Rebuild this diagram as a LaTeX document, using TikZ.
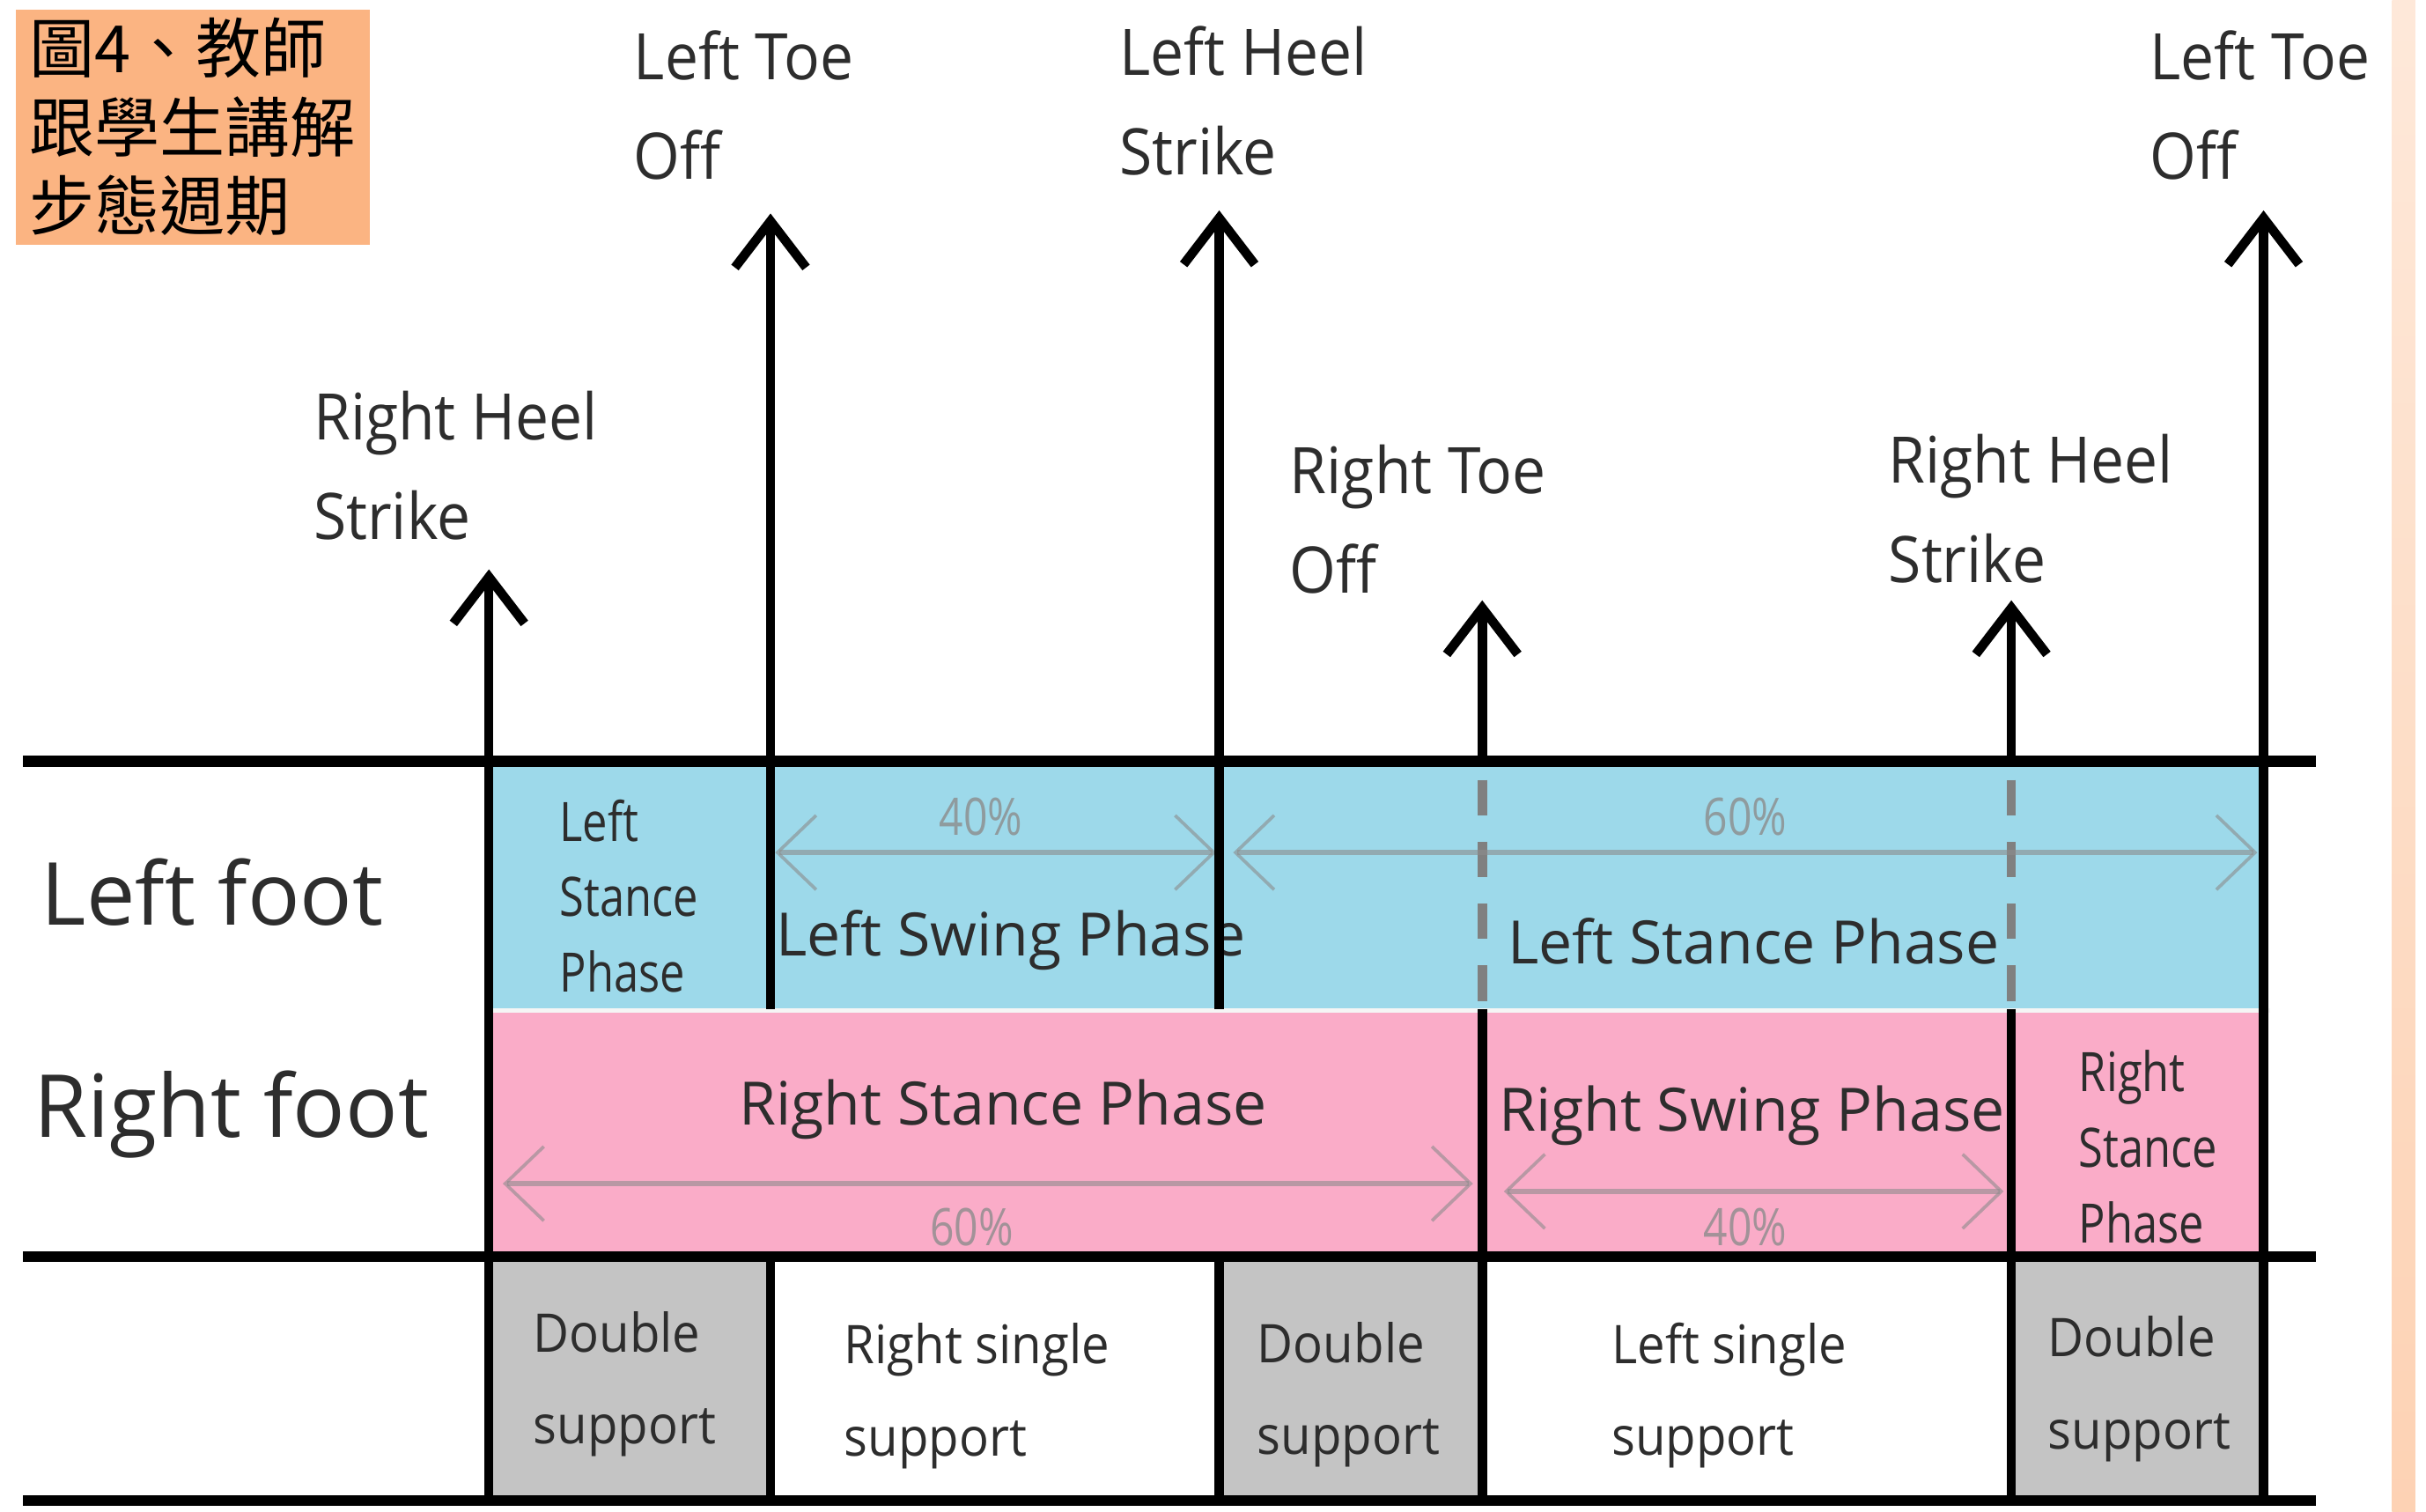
\documentclass[tikz,border=0pt]{standalone}
\usepackage{fontspec}
\setmainfont{Open Sans}
\newfontfamily\condfont[FakeStretch=0.93]{Open Sans}
\newfontfamily\narrowfont[FakeStretch=0.82]{Open Sans}
\newfontfamily\cjkfont{Noto Sans CJK TC}
\usetikzlibrary{arrows.meta}
\definecolor{legblue}{RGB}{157,217,234}
\definecolor{legpink}{RGB}{250,172,200}
\definecolor{dblgray}{RGB}{196,196,196}
\definecolor{titlepeach}{RGB}{251,180,130}
\definecolor{labeltext}{RGB}{45,45,45}

\begin{document}
\begin{tikzpicture}
[evtlabel/.style={anchor=north west, align=left, inner sep=0pt, text=labeltext,
   font=\condfont\fontsize{11.8}{18.3}\selectfont},
 footlabel/.style={anchor=base west, inner sep=0pt, text=labeltext, font=\fontsize{16}{19}\selectfont},
 phaselabel/.style={anchor=base west, inner sep=0pt, text=labeltext, font=\fontsize{11}{13}\selectfont},
 smallphase/.style={anchor=north west, align=left, inner sep=0pt, text=labeltext,
   font=\narrowfont\fontsize{10}{13.9}\selectfont},
 supportlabel/.style={anchor=north west, align=left, inner sep=0pt, text=labeltext,
   font=\condfont\fontsize{9.8}{16.9}\selectfont},
 pct/.style={inner sep=0pt, text=black!45, text opacity=.8, font=\narrowfont\fontsize{9.5}{11}\selectfont},
 event/.style={line width=1.7pt, -{Straight Barb[length=3mm, width=4.6mm]}},
 gridline/.style={line width=1.7pt},
 sepdash/.style={line width=1.7pt, draw=black!50, dash pattern=on 2.3mm off 1.7mm},
 span/.style={draw=black!45, draw opacity=.6, line width=1pt,
   {Straight Barb[length=2.5mm, width=4.8mm, line width=.6pt]}-{Straight Barb[length=2.5mm, width=4.8mm, line width=.6pt]}}]
\useasboundingbox (0,0) rectangle (15.68,-9.77);
\shade [top color=titlepeach!30, bottom color=titlepeach!60] (15.46,0) rectangle (15.61,-9.77);

% title
\node (title) at (1.245,-0.82) [fill=titlepeach, minimum width=2.29cm, minimum height=1.52cm,
  inner sep=0pt, align=left, font=\cjkfont\fontsize{12}{14.5}\selectfont] {圖4、教師\\跟學生講解\\步態週期};

% bands
\fill [legblue] (3.16,-4.92) rectangle (14.63,-6.52);
\fill [legpink] (3.16,-6.54) rectangle (14.63,-8.12);
\draw [white!92!gray, line width=.8pt] (3.16,-6.53) -- (14.67,-6.53);
\fill [dblgray] (3.16,-8.12) rectangle (4.98,-9.70);
\fill [dblgray] (7.88,-8.12) rectangle (9.58,-9.70);
\fill [dblgray] (13.00,-8.12) rectangle (14.63,-9.70);
\draw [sepdash] (9.58,-5.04) -- (9.58,-6.50);
\draw [sepdash] (13.00,-5.04) -- (13.00,-6.50);

% spans
\coordinate (sw40l) at (5.01,-5.51);
\coordinate (sw40r) at (7.86,-5.51);
\coordinate (st60l) at (7.97,-5.51);
\coordinate (st60r) at (14.59,-5.51);
\coordinate (rs60l) at (3.25,-7.65);
\coordinate (rs60r) at (9.52,-7.65);
\coordinate (rw40l) at (9.72,-7.70);
\coordinate (rw40r) at (12.95,-7.70);
\draw [span] (sw40l) -- (sw40r);
\draw [span] (st60l) -- (st60r);
\draw [span] (rs60l) -- (rs60r);
\draw [span] (rw40l) -- (rw40r);
\node (sw40) at (6.34,-5.28) [pct] {40\%};
\node (st60) at (11.28,-5.28) [pct] {60\%};
\node (rs60) at (6.28,-7.93) [pct] {60\%};
\node (rw40) at (11.28,-7.93) [pct] {40\%};

% phases
\node (lsp1) at (3.61,-5.16) [smallphase] {Left\\Stance\\Phase};
\node (lsw) at (5.01,-6.18) [phaselabel] {Left Swing Phase};
\node (lsp2) at (9.74,-6.23) [phaselabel] {Left Stance Phase};
\node (rsp1) at (4.77,-7.27) [phaselabel] {Right Stance Phase};
\node (rsw) at (9.68,-7.31) [phaselabel] {Right Swing Phase};
\node (rsp2) at (13.43,-6.78) [smallphase] {Right\\Stance\\Phase};
\node (lfoot) at (0.26,-5.98) [footlabel] {Left foot};
\node (rfoot) at (0.21,-7.35) [footlabel] {Right foot};

% support
\node (ds1) at (3.44,-8.47) [supportlabel] {Double\\support};
\node (rss) at (5.45,-8.546) [supportlabel] {Right single\\support};
\node (ds2) at (8.12,-8.536) [supportlabel] {Double\\support};
\node (lss) at (10.41,-8.54) [supportlabel] {Left single\\support};
\node (ds3) at (13.23,-8.50) [supportlabel] {Double\\support};

% events
\node (rhs1) at (2.02,-2.52) [evtlabel] {Right Heel\\Strike};
\node (lto1) at (4.09,-0.19) [evtlabel] {Left Toe\\Off};
\node (lhs) at (7.23,-0.16) [evtlabel] {Left Heel\\Strike};
\node (rto) at (8.33,-2.87) [evtlabel] {Right Toe\\Off};
\node (rhs2) at (12.20,-2.80) [evtlabel] {Right Heel\\Strike};
\node (lto2) at (13.89,-0.19) [evtlabel] {Left Toe\\Off};
\coordinate (rhs1b) at (3.16,-9.70);
\coordinate (rhs1t) at (3.16,-3.68);
\coordinate (lto1b) at (4.98,-6.52);
\coordinate (lto1t) at (4.98,-1.38);
\coordinate (lhsb) at (7.88,-6.52);
\coordinate (lhst) at (7.88,-1.36);
\coordinate (rtob) at (9.58,-4.92);
\coordinate (rtot) at (9.58,-3.88);
\coordinate (rhs2b) at (13.00,-4.92);
\coordinate (rhs2t) at (13.00,-3.88);
\coordinate (lto2b) at (14.63,-9.70);
\coordinate (lto2t) at (14.63,-1.36);
\draw [event] (rhs1b) -- (rhs1t);
\draw [event] (lto1b) -- (lto1t);
\draw [event] (lhsb) -- (lhst);
\draw [event] (rtob) -- (rtot);
\draw [event] (rhs2b) -- (rhs2t);
\draw [event] (lto2b) -- (lto2t);

% table lines
\draw [gridline] (4.98,-8.12) -- (4.98,-9.70);
\draw [gridline] (7.88,-8.12) -- (7.88,-9.70);
\draw [gridline] (9.58,-6.52) -- (9.58,-9.70);
\draw [gridline] (13.00,-6.52) -- (13.00,-9.70);
\draw [gridline, line width=2pt] (0.15,-4.92) -- (14.97,-4.92);
\draw [gridline, line width=2pt] (0.15,-8.12) -- (14.97,-8.12);
\draw [gridline, line width=2pt] (0.15,-9.70) -- (14.97,-9.70);
\end{tikzpicture}
\end{document}
